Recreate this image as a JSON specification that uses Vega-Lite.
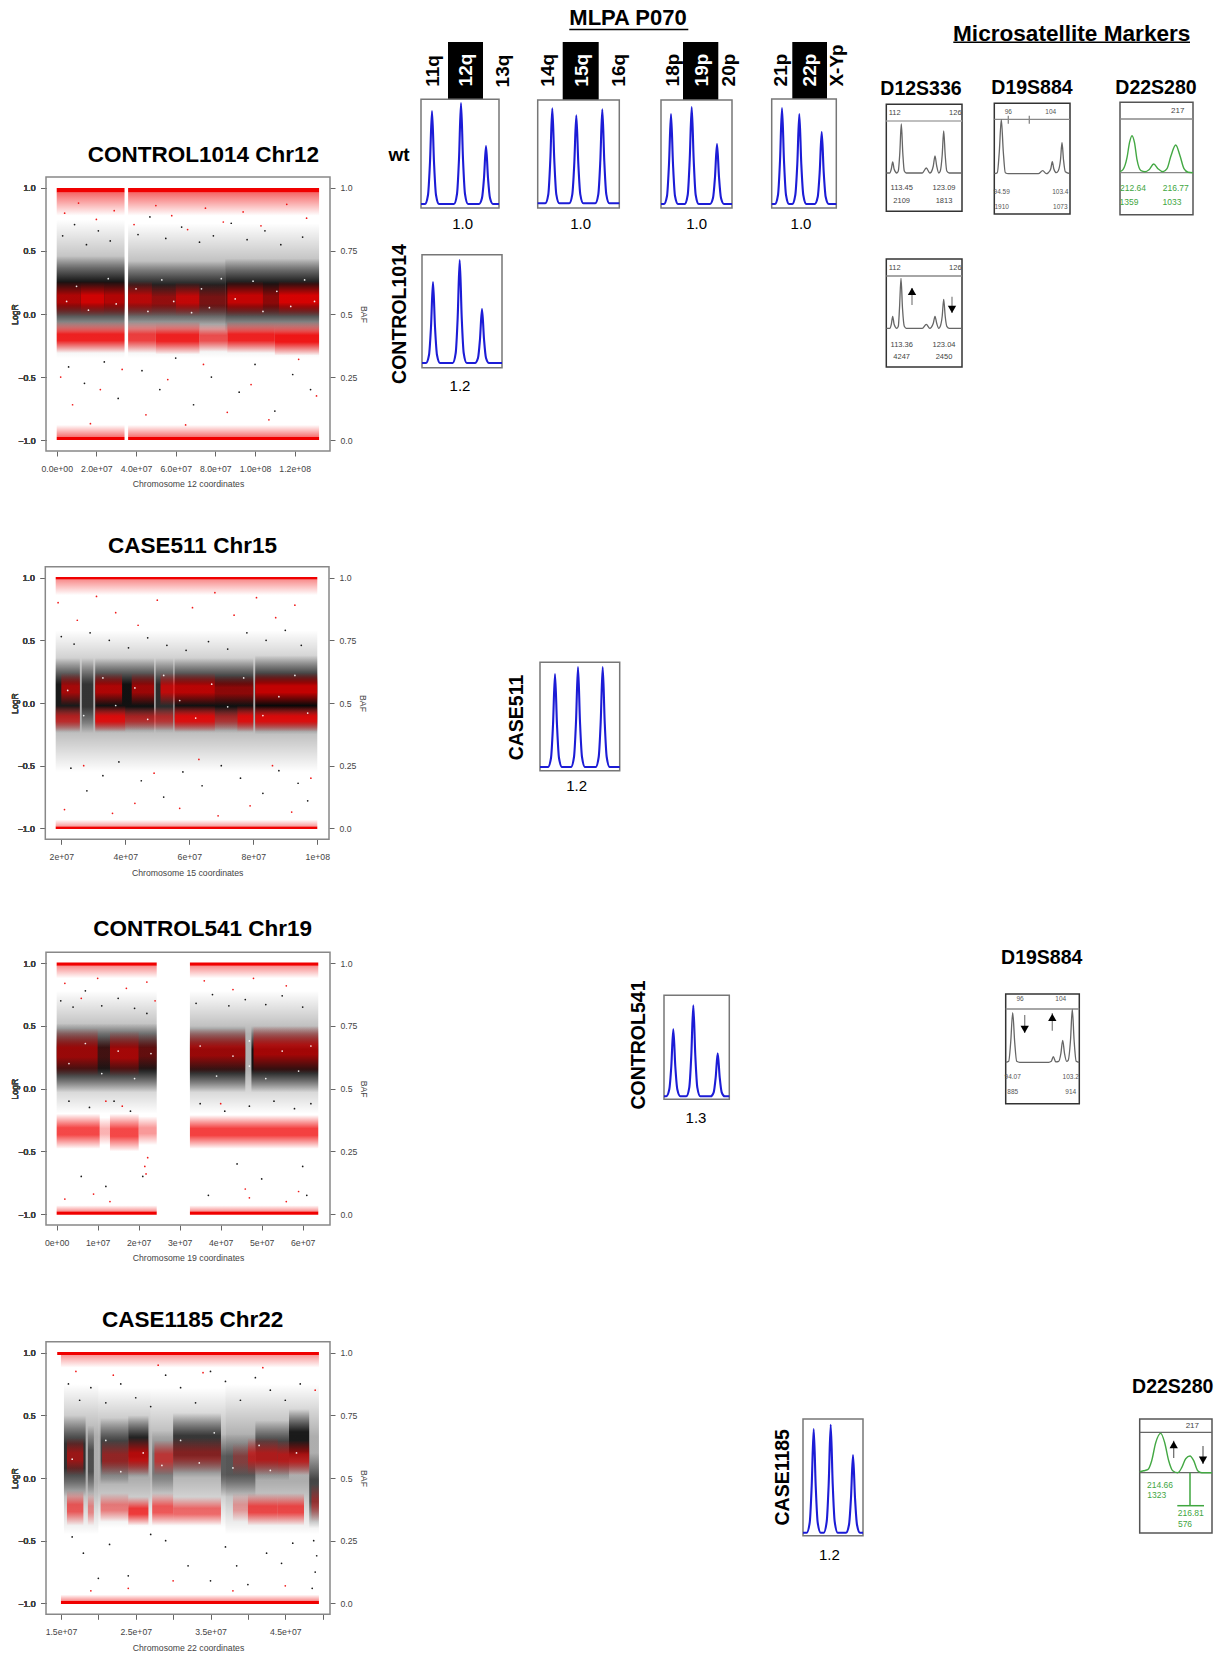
{"$schema":"https://vega.github.io/schema/vega-lite/v6.json","width":1224,"height":1654,"padding":0,"autosize":"none","background":"white",
"config":{"view":{"stroke":null},"text":{"font":"Liberation Sans"},"axis":{"domain":false,"grid":false,"tickColor":"#666","tickSize":5,"labelFont":"Liberation Sans","labelFontSize":8.7,"labelColor":"#444","titleFont":"Liberation Sans","titleFontSize":8.7,"titleColor":"#444","titleFontWeight":"normal","labelFlush":false,"labelOverlap":false}},
"resolve":{"scale":{"x":"independent","y":"independent"}},
"layer":[
{"resolve":{"axis":{"y":"independent"}},
"encoding":{"x":{"field":"x","type":"quantitative","scale":{"domain":[-5.4,137.8],"range":[46,330]},"axis":{"orient":"bottom","offset":-1203,"values":[0,20,40,60,80,100,120],"labelPadding":8,"titlePadding":7,"title":"Chromosome 12 coordinates","labelExpr":"replace(format(datum.value*1e6,'.1e'),/e\\+(\\d)$/,'e+0$1')"}},
"y":{"field":"y","type":"quantitative","scale":{"domain":[-1.087,1.087],"range":[451,177]},"axis":{"orient":"left","offset":-46,"values":[-1,-0.5,0,0.5,1],"format":".1f","labelPadding":6,"title":"LogR","titleX":-27}}},
"layer":[
{"data":{"values":[{"x":0,"x2":34.2,"y":-0.35,"y2":0.75,"d":0.3},{"x":36,"x2":132.3,"y":-0.35,"y2":0.72,"d":0.3},{"x":0,"x2":34.2,"y":-0.14,"y2":0.46,"d":0.9},{"x":36,"x2":85,"y":-0.12,"y2":0.42,"d":0.82},{"x":85,"x2":132.3,"y":-0.14,"y2":0.44,"d":0.9}]},"mark":{"type":"rect","stroke":null,"fill":{"gradient":"linear","x1":0,"y1":0,"x2":0,"y2":1,"stops":[{"offset":0,"color":"rgba(0,0,0,0)"},{"offset":0.35,"color":"rgba(0,0,0,1)"},{"offset":0.65,"color":"rgba(0,0,0,1)"},{"offset":1,"color":"rgba(0,0,0,0)"}]}},"encoding":{"x2":{"field":"x2"},"y2":{"field":"y2"},"opacity":{"field":"d","type":"quantitative","scale":null}}},
{"data":{"values":[{"x":0,"x2":12,"y":-0.02,"y2":0.26,"d":0.7},{"x":12,"x2":24,"y":-0.02,"y2":0.26,"d":0.85},{"x":24,"x2":34.2,"y":-0.02,"y2":0.26,"d":0.72},{"x":36,"x2":48,"y":-0.02,"y2":0.26,"d":0.72},{"x":48,"x2":60,"y":-0.02,"y2":0.24,"d":0.55},{"x":60,"x2":72,"y":-0.02,"y2":0.25,"d":0.78},{"x":72,"x2":86,"y":-0.02,"y2":0.24,"d":0.42},{"x":86,"x2":104,"y":-0.02,"y2":0.26,"d":0.8},{"x":104,"x2":112,"y":-0.02,"y2":0.25,"d":0.55},{"x":112,"x2":132.3,"y":-0.02,"y2":0.26,"d":0.88},{"x":0,"x2":34.2,"y":-0.31,"y2":-0.06,"d":0.85},{"x":36,"x2":50,"y":-0.31,"y2":-0.06,"d":0.72},{"x":50,"x2":72,"y":-0.32,"y2":-0.06,"d":0.85},{"x":72,"x2":86,"y":-0.3,"y2":-0.08,"d":0.65},{"x":86,"x2":110,"y":-0.31,"y2":-0.06,"d":0.85},{"x":110,"x2":132.3,"y":-0.33,"y2":-0.06,"d":0.9}]},"mark":{"type":"rect","stroke":null,"fill":{"gradient":"linear","x1":0,"y1":0,"x2":0,"y2":1,"stops":[{"offset":0,"color":"rgba(240,0,0,0)"},{"offset":0.4,"color":"rgba(240,0,0,1)"},{"offset":0.6,"color":"rgba(240,0,0,1)"},{"offset":1,"color":"rgba(240,0,0,0)"}]}},"encoding":{"x2":{"field":"x2"},"y2":{"field":"y2"},"opacity":{"field":"d","type":"quantitative","scale":null}}},
{"data":{"values":[{"x":0,"x2":34.2,"y":0.965,"y2":0.78,"d":0.6},{"x":36,"x2":132.3,"y":0.965,"y2":0.78,"d":0.6}]},"mark":{"type":"rect","stroke":null,"fill":{"gradient":"linear","x1":0,"y1":0,"x2":0,"y2":1,"stops":[{"offset":0,"color":"rgba(240,0,0,1)"},{"offset":1,"color":"rgba(240,0,0,0)"}]}},"encoding":{"x2":{"field":"x2"},"y2":{"field":"y2"},"opacity":{"field":"d","type":"quantitative","scale":null}}},
{"data":{"values":[{"x":0,"x2":34.2,"y":-0.975,"y2":-0.88,"d":0.55},{"x":36,"x2":132.3,"y":-0.975,"y2":-0.88,"d":0.55}]},"mark":{"type":"rect","stroke":null,"fill":{"gradient":"linear","x1":0,"y1":1,"x2":0,"y2":0,"stops":[{"offset":0,"color":"rgba(240,0,0,1)"},{"offset":1,"color":"rgba(240,0,0,0)"}]}},"encoding":{"x2":{"field":"x2"},"y2":{"field":"y2"},"opacity":{"field":"d","type":"quantitative","scale":null}}},
{"data":{"values":[{"x":0,"x2":34.2,"y":0.965,"y2":1},{"x":36,"x2":132.3,"y":0.965,"y2":1},{"x":0,"x2":34.2,"y":-1,"y2":-0.975},{"x":36,"x2":132.3,"y":-1,"y2":-0.975}]},"mark":{"type":"rect","stroke":null,"fill":"#f00000"},"encoding":{"x2":{"field":"x2"},"y2":{"field":"y2"}}},
{"data":{"values":[{"x":3,"y":0.62,"c":"k"},{"x":9,"y":0.71,"c":"k"},{"x":15,"y":0.55,"c":"k"},{"x":21,"y":0.66,"c":"k"},{"x":27,"y":0.58,"c":"k"},{"x":41,"y":0.63,"c":"k"},{"x":47,"y":0.77,"c":"k"},{"x":55,"y":0.6,"c":"k"},{"x":63,"y":0.69,"c":"k"},{"x":72,"y":0.57,"c":"k"},{"x":79,"y":0.62,"c":"k"},{"x":88,"y":0.72,"c":"k"},{"x":96,"y":0.59,"c":"k"},{"x":105,"y":0.66,"c":"k"},{"x":113,"y":0.55,"c":"k"},{"x":124,"y":0.61,"c":"k"},{"x":6,"y":-0.42,"c":"k"},{"x":14,"y":-0.55,"c":"k"},{"x":24,"y":-0.38,"c":"k"},{"x":31,"y":-0.67,"c":"k"},{"x":43,"y":-0.45,"c":"k"},{"x":52,"y":-0.6,"c":"k"},{"x":60,"y":-0.35,"c":"k"},{"x":69,"y":-0.72,"c":"k"},{"x":78,"y":-0.5,"c":"k"},{"x":92,"y":-0.62,"c":"k"},{"x":100,"y":-0.4,"c":"k"},{"x":110,"y":-0.77,"c":"k"},{"x":119,"y":-0.48,"c":"k"},{"x":128,"y":-0.6,"c":"k"},{"x":4,"y":0.8,"c":"r"},{"x":11,"y":0.88,"c":"r"},{"x":20,"y":0.75,"c":"r"},{"x":29,"y":0.82,"c":"r"},{"x":39,"y":0.71,"c":"r"},{"x":50,"y":0.86,"c":"r"},{"x":58,"y":0.78,"c":"r"},{"x":66,"y":0.67,"c":"r"},{"x":75,"y":0.84,"c":"r"},{"x":84,"y":0.73,"c":"r"},{"x":94,"y":0.81,"c":"r"},{"x":103,"y":0.7,"c":"r"},{"x":116,"y":0.87,"c":"r"},{"x":126,"y":0.76,"c":"r"},{"x":2,"y":-0.5,"c":"r"},{"x":8,"y":-0.72,"c":"r"},{"x":17,"y":-0.87,"c":"r"},{"x":22,"y":-0.6,"c":"r"},{"x":33,"y":-0.44,"c":"r"},{"x":45,"y":-0.8,"c":"r"},{"x":56,"y":-0.52,"c":"r"},{"x":65,"y":-0.88,"c":"r"},{"x":74,"y":-0.4,"c":"r"},{"x":86,"y":-0.78,"c":"r"},{"x":98,"y":-0.56,"c":"r"},{"x":107,"y":-0.84,"c":"r"},{"x":122,"y":-0.36,"c":"r"},{"x":131,"y":-0.65,"c":"r"},{"x":5,"y":0.1,"c":"w"},{"x":10,"y":0.22,"c":"w"},{"x":16,"y":0.03,"c":"w"},{"x":26,"y":0.28,"c":"w"},{"x":30,"y":0.08,"c":"w"},{"x":40,"y":0.2,"c":"w"},{"x":46,"y":0.02,"c":"w"},{"x":53,"y":0.27,"c":"w"},{"x":59,"y":0.1,"c":"w"},{"x":68,"y":0.01,"c":"w"},{"x":73,"y":0.2,"c":"w"},{"x":77,"y":0.05,"c":"w"},{"x":83,"y":0.28,"c":"w"},{"x":90,"y":0.12,"c":"w"},{"x":99,"y":0.26,"c":"w"},{"x":104,"y":0.02,"c":"w"},{"x":111,"y":0.18,"c":"w"},{"x":118,"y":0.06,"c":"w"},{"x":125,"y":0.27,"c":"w"},{"x":130,"y":0.1,"c":"w"}]},"mark":{"type":"circle","size":3,"opacity":0.9},"encoding":{"color":{"field":"c","type":"nominal","scale":{"domain":["k","r","w"],"range":["#000000","#f00000","#ffffff"]},"legend":null}}},
{"data":{"values":[{"x":-5.4,"x2":137.8,"y":-1.087,"y2":1.087}]},"mark":{"type":"rect","fill":null,"stroke":"#888","strokeWidth":1.5},"encoding":{"x2":{"field":"x2"},"y2":{"field":"y2"},"y":{"field":"y","type":"quantitative","scale":{"domain":[-1.087,1.087],"range":[451,177]},"axis":{"orient":"right","offset":-894,"values":[-1,-0.5,0,0.5,1],"labelPadding":5,"title":"BAF","titleX":28,"labelExpr":"{'-1':'0.0','-0.5':'0.25','0':'0.5','0.5':'0.75','1':'1.0'}[''+datum.value]"}}}},
{"data":{"values":[{"x":74,"y":1.26,"t":"CONTROL1014 Chr12"}]},"mark":{"type":"text","fontSize":22.5,"fontWeight":"bold"},"encoding":{"text":{"field":"t"}}}
]},
{"resolve":{"axis":{"y":"independent"}},
"encoding":{"x":{"field":"x","type":"quantitative","scale":{"domain":[15,103.66],"range":[45.3,329]},"axis":{"orient":"bottom","offset":-814.7,"values":[20,40,60,80,100],"labelPadding":8,"titlePadding":7,"title":"Chromosome 15 coordinates","labelExpr":"replace(format(datum.value*1e6,'.0e'),/e\\+(\\d)$/,'e+0$1')"}},
"y":{"field":"y","type":"quantitative","scale":{"domain":[-1.087,1.087],"range":[839.3,566.7]},"axis":{"orient":"left","offset":-45.3,"values":[-1,-0.5,0,0.5,1],"format":".1f","labelPadding":6,"title":"LogR","titleX":-26.3}}},
"layer":[
{"data":{"values":[{"x":18.25,"x2":100,"y":-0.55,"y2":0.58,"d":0.32},{"x":18.25,"x2":25.8,"y":-0.24,"y2":0.36,"d":0.85},{"x":26.4,"x2":30,"y":-0.24,"y2":0.36,"d":0.7},{"x":30.6,"x2":49,"y":-0.24,"y2":0.36,"d":0.9},{"x":49.5,"x2":55,"y":-0.24,"y2":0.36,"d":0.75},{"x":55.4,"x2":80,"y":-0.24,"y2":0.36,"d":0.9},{"x":80.6,"x2":100,"y":-0.25,"y2":0.38,"d":0.95}]},"mark":{"type":"rect","stroke":null,"fill":{"gradient":"linear","x1":0,"y1":0,"x2":0,"y2":1,"stops":[{"offset":0,"color":"rgba(0,0,0,0)"},{"offset":0.35,"color":"rgba(0,0,0,1)"},{"offset":0.65,"color":"rgba(0,0,0,1)"},{"offset":1,"color":"rgba(0,0,0,0)"}]}},"encoding":{"x2":{"field":"x2"},"y2":{"field":"y2"},"opacity":{"field":"d","type":"quantitative","scale":null}}},
{"data":{"values":[{"x":20,"x2":25.8,"y":-0.02,"y2":0.24,"d":0.65},{"x":30.6,"x2":39,"y":-0.02,"y2":0.24,"d":0.7},{"x":42,"x2":49,"y":-0.02,"y2":0.24,"d":0.62},{"x":51,"x2":68,"y":-0.02,"y2":0.24,"d":0.75},{"x":68,"x2":80,"y":-0.02,"y2":0.22,"d":0.55},{"x":80.6,"x2":100,"y":-0.02,"y2":0.24,"d":0.8},{"x":18.25,"x2":25.8,"y":-0.23,"y2":-0.02,"d":0.6},{"x":30.6,"x2":40,"y":-0.23,"y2":-0.02,"d":0.85},{"x":40,"x2":55,"y":-0.22,"y2":-0.03,"d":0.55},{"x":55.4,"x2":68,"y":-0.23,"y2":-0.02,"d":0.85},{"x":68,"x2":75,"y":-0.22,"y2":-0.03,"d":0.5},{"x":75,"x2":80,"y":-0.23,"y2":-0.02,"d":0.85},{"x":80.6,"x2":100,"y":-0.23,"y2":-0.02,"d":0.85}]},"mark":{"type":"rect","stroke":null,"fill":{"gradient":"linear","x1":0,"y1":0,"x2":0,"y2":1,"stops":[{"offset":0,"color":"rgba(240,0,0,0)"},{"offset":0.4,"color":"rgba(240,0,0,1)"},{"offset":0.6,"color":"rgba(240,0,0,1)"},{"offset":1,"color":"rgba(240,0,0,0)"}]}},"encoding":{"x2":{"field":"x2"},"y2":{"field":"y2"},"opacity":{"field":"d","type":"quantitative","scale":null}}},
{"data":{"values":[{"x":18.25,"x2":100,"y":0.985,"y2":0.86,"d":0.45}]},"mark":{"type":"rect","stroke":null,"fill":{"gradient":"linear","x1":0,"y1":0,"x2":0,"y2":1,"stops":[{"offset":0,"color":"rgba(240,0,0,1)"},{"offset":1,"color":"rgba(240,0,0,0)"}]}},"encoding":{"x2":{"field":"x2"},"y2":{"field":"y2"},"opacity":{"field":"d","type":"quantitative","scale":null}}},
{"data":{"values":[{"x":18.25,"x2":100,"y":-0.985,"y2":-0.93,"d":0.4}]},"mark":{"type":"rect","stroke":null,"fill":{"gradient":"linear","x1":0,"y1":1,"x2":0,"y2":0,"stops":[{"offset":0,"color":"rgba(240,0,0,1)"},{"offset":1,"color":"rgba(240,0,0,0)"}]}},"encoding":{"x2":{"field":"x2"},"y2":{"field":"y2"},"opacity":{"field":"d","type":"quantitative","scale":null}}},
{"data":{"values":[{"x":18.25,"x2":100,"y":0.985,"y2":1.005},{"x":18.25,"x2":100,"y":-1.005,"y2":-0.985}]},"mark":{"type":"rect","stroke":null,"fill":"#f00000"},"encoding":{"x2":{"field":"x2"},"y2":{"field":"y2"}}},
{"data":{"values":[{"x":20,"y":0.53,"c":"k"},{"x":24,"y":0.47,"c":"k"},{"x":29,"y":0.56,"c":"k"},{"x":35,"y":0.5,"c":"k"},{"x":41,"y":0.44,"c":"k"},{"x":47,"y":0.52,"c":"k"},{"x":53,"y":0.46,"c":"k"},{"x":59,"y":0.42,"c":"k"},{"x":66,"y":0.49,"c":"k"},{"x":72,"y":0.43,"c":"k"},{"x":78,"y":0.56,"c":"k"},{"x":84,"y":0.5,"c":"k"},{"x":90,"y":0.58,"c":"k"},{"x":95,"y":0.46,"c":"k"},{"x":23,"y":-0.52,"c":"k"},{"x":28,"y":-0.7,"c":"k"},{"x":33,"y":-0.58,"c":"k"},{"x":38,"y":-0.47,"c":"k"},{"x":45,"y":-0.62,"c":"k"},{"x":52,"y":-0.75,"c":"k"},{"x":58,"y":-0.55,"c":"k"},{"x":64,"y":-0.66,"c":"k"},{"x":70,"y":-0.5,"c":"k"},{"x":76,"y":-0.6,"c":"k"},{"x":83,"y":-0.72,"c":"k"},{"x":88,"y":-0.54,"c":"k"},{"x":94,"y":-0.64,"c":"k"},{"x":97,"y":-0.78,"c":"k"},{"x":19,"y":0.8,"c":"r"},{"x":25,"y":0.66,"c":"r"},{"x":31,"y":0.85,"c":"r"},{"x":37,"y":0.72,"c":"r"},{"x":44,"y":0.62,"c":"r"},{"x":50,"y":0.82,"c":"r"},{"x":61,"y":0.76,"c":"r"},{"x":68,"y":0.88,"c":"r"},{"x":74,"y":0.7,"c":"r"},{"x":81,"y":0.84,"c":"r"},{"x":87,"y":0.68,"c":"r"},{"x":93,"y":0.78,"c":"r"},{"x":21,"y":-0.85,"c":"r"},{"x":27,"y":-0.5,"c":"r"},{"x":36,"y":-0.88,"c":"r"},{"x":43,"y":-0.8,"c":"r"},{"x":49,"y":-0.56,"c":"r"},{"x":57,"y":-0.84,"c":"r"},{"x":63,"y":-0.45,"c":"r"},{"x":69,"y":-0.9,"c":"r"},{"x":79,"y":-0.82,"c":"r"},{"x":86,"y":-0.5,"c":"r"},{"x":92,"y":-0.87,"c":"r"},{"x":98,"y":-0.6,"c":"r"},{"x":22,"y":0.1,"c":"w"},{"x":27,"y":-0.1,"c":"w"},{"x":33,"y":0.2,"c":"w"},{"x":37,"y":-0.02,"c":"w"},{"x":43,"y":0.12,"c":"w"},{"x":47,"y":-0.13,"c":"w"},{"x":52,"y":0.22,"c":"w"},{"x":57,"y":0.02,"c":"w"},{"x":62,"y":-0.12,"c":"w"},{"x":67,"y":0.15,"c":"w"},{"x":72,"y":-0.03,"c":"w"},{"x":77,"y":0.2,"c":"w"},{"x":83,"y":-0.1,"c":"w"},{"x":88,"y":0.05,"c":"w"},{"x":93,"y":0.22,"c":"w"},{"x":97,"y":-0.08,"c":"w"}]},"mark":{"type":"circle","size":3,"opacity":0.9},"encoding":{"color":{"field":"c","type":"nominal","scale":{"domain":["k","r","w"],"range":["#000000","#f00000","#ffffff"]},"legend":null}}},
{"data":{"values":[{"x":15,"x2":103.66,"y":-1.087,"y2":1.087}]},"mark":{"type":"rect","fill":null,"stroke":"#888","strokeWidth":1.5},"encoding":{"x2":{"field":"x2"},"y2":{"field":"y2"},"y":{"field":"y","type":"quantitative","scale":{"domain":[-1.087,1.087],"range":[839.3,566.7]},"axis":{"orient":"right","offset":-895,"values":[-1,-0.5,0,0.5,1],"labelPadding":5,"title":"BAF","titleX":28,"labelExpr":"{'-1':'0.0','-0.5':'0.25','0':'0.5','0.5':'0.75','1':'1.0'}[''+datum.value]"}}}},
{"data":{"values":[{"x":61,"y":1.25,"t":"CASE511 Chr15"}]},"mark":{"type":"text","fontSize":22.5,"fontWeight":"bold"},"encoding":{"text":{"field":"t"}}}
]},
{"resolve":{"axis":{"y":"independent"}},
"encoding":{"x":{"field":"x","type":"quantitative","scale":{"domain":[-2.6,66.66],"range":[46,330]},"axis":{"orient":"bottom","offset":-429,"values":[0,10,20,30,40,50,60],"labelPadding":8,"titlePadding":7,"title":"Chromosome 19 coordinates","labelExpr":"replace(format(datum.value*1e6,'.0e'),/e\\+(\\d)$/,'e+0$1')"}},
"y":{"field":"y","type":"quantitative","scale":{"domain":[-1.087,1.087],"range":[1225,952.3]},"axis":{"orient":"left","offset":-46,"values":[-1,-0.5,0,0.5,1],"format":".1f","labelPadding":6,"title":"LogR","titleX":-27}}},
"layer":[
{"data":{"values":[{"x":0,"x2":24.4,"y":-0.2,"y2":0.78,"d":0.3},{"x":32.5,"x2":63.8,"y":-0.2,"y2":0.78,"d":0.3},{"x":0,"x2":24.4,"y":-0.03,"y2":0.52,"d":0.88},{"x":32.5,"x2":46,"y":-0.03,"y2":0.5,"d":0.88},{"x":47.5,"x2":63.8,"y":-0.03,"y2":0.5,"d":0.9}]},"mark":{"type":"rect","stroke":null,"fill":{"gradient":"linear","x1":0,"y1":0,"x2":0,"y2":1,"stops":[{"offset":0,"color":"rgba(0,0,0,0)"},{"offset":0.35,"color":"rgba(0,0,0,1)"},{"offset":0.65,"color":"rgba(0,0,0,1)"},{"offset":1,"color":"rgba(0,0,0,0)"}]}},"encoding":{"x2":{"field":"x2"},"y2":{"field":"y2"},"opacity":{"field":"d","type":"quantitative","scale":null}}},
{"data":{"values":[{"x":0,"x2":10,"y":0.1,"y2":0.48,"d":0.6},{"x":10,"x2":13,"y":0.14,"y2":0.42,"d":0.2},{"x":13,"x2":20,"y":0.1,"y2":0.46,"d":0.65},{"x":20,"x2":24.4,"y":0.14,"y2":0.44,"d":0.35},{"x":32.5,"x2":46,"y":0.12,"y2":0.48,"d":0.6},{"x":48,"x2":63.8,"y":0.12,"y2":0.5,"d":0.65},{"x":0,"x2":10.5,"y":-0.48,"y2":-0.2,"d":0.72},{"x":10.5,"x2":13,"y":-0.45,"y2":-0.23,"d":0.3},{"x":13,"x2":20,"y":-0.5,"y2":-0.2,"d":0.72},{"x":20,"x2":24.4,"y":-0.45,"y2":-0.22,"d":0.4},{"x":32.5,"x2":63.8,"y":-0.48,"y2":-0.21,"d":0.75}]},"mark":{"type":"rect","stroke":null,"fill":{"gradient":"linear","x1":0,"y1":0,"x2":0,"y2":1,"stops":[{"offset":0,"color":"rgba(240,0,0,0)"},{"offset":0.4,"color":"rgba(240,0,0,1)"},{"offset":0.6,"color":"rgba(240,0,0,1)"},{"offset":1,"color":"rgba(240,0,0,0)"}]}},"encoding":{"x2":{"field":"x2"},"y2":{"field":"y2"},"opacity":{"field":"d","type":"quantitative","scale":null}}},
{"data":{"values":[{"x":0,"x2":24.4,"y":0.98,"y2":0.88,"d":0.45},{"x":32.5,"x2":63.8,"y":0.98,"y2":0.88,"d":0.45}]},"mark":{"type":"rect","stroke":null,"fill":{"gradient":"linear","x1":0,"y1":0,"x2":0,"y2":1,"stops":[{"offset":0,"color":"rgba(240,0,0,1)"},{"offset":1,"color":"rgba(240,0,0,0)"}]}},"encoding":{"x2":{"field":"x2"},"y2":{"field":"y2"},"opacity":{"field":"d","type":"quantitative","scale":null}}},
{"data":{"values":[{"x":0,"x2":24.4,"y":-0.98,"y2":-0.93,"d":0.45},{"x":32.5,"x2":63.8,"y":-0.98,"y2":-0.93,"d":0.45}]},"mark":{"type":"rect","stroke":null,"fill":{"gradient":"linear","x1":0,"y1":1,"x2":0,"y2":0,"stops":[{"offset":0,"color":"rgba(240,0,0,1)"},{"offset":1,"color":"rgba(240,0,0,0)"}]}},"encoding":{"x2":{"field":"x2"},"y2":{"field":"y2"},"opacity":{"field":"d","type":"quantitative","scale":null}}},
{"data":{"values":[{"x":0,"x2":24.4,"y":0.98,"y2":1.005},{"x":32.5,"x2":63.8,"y":0.98,"y2":1.005},{"x":0,"x2":24.4,"y":-1.005,"y2":-0.98},{"x":32.5,"x2":63.8,"y":-1.005,"y2":-0.98}]},"mark":{"type":"rect","stroke":null,"fill":"#f00000"},"encoding":{"x2":{"field":"x2"},"y2":{"field":"y2"}}},
{"data":{"values":[{"x":1,"y":0.7,"c":"k"},{"x":4,"y":0.65,"c":"k"},{"x":7,"y":0.78,"c":"k"},{"x":11,"y":0.66,"c":"k"},{"x":15,"y":0.72,"c":"k"},{"x":19,"y":0.64,"c":"k"},{"x":22,"y":0.6,"c":"k"},{"x":34,"y":0.68,"c":"k"},{"x":38,"y":0.75,"c":"k"},{"x":42,"y":0.66,"c":"k"},{"x":46,"y":0.71,"c":"k"},{"x":51,"y":0.67,"c":"k"},{"x":55,"y":0.74,"c":"k"},{"x":60,"y":0.65,"c":"k"},{"x":3,"y":-0.1,"c":"k"},{"x":8,"y":-0.15,"c":"k"},{"x":14,"y":-0.1,"c":"k"},{"x":18,"y":-0.18,"c":"k"},{"x":35,"y":-0.12,"c":"k"},{"x":41,"y":-0.18,"c":"k"},{"x":47,"y":-0.14,"c":"k"},{"x":53,"y":-0.1,"c":"k"},{"x":58,"y":-0.16,"c":"k"},{"x":62,"y":-0.12,"c":"k"},{"x":6,"y":-0.7,"c":"k"},{"x":12,"y":-0.78,"c":"k"},{"x":21,"y":-0.7,"c":"k"},{"x":37,"y":-0.85,"c":"k"},{"x":44,"y":-0.6,"c":"k"},{"x":50,"y":-0.72,"c":"k"},{"x":60,"y":-0.62,"c":"k"},{"x":61,"y":-0.85,"c":"k"},{"x":2,"y":0.84,"c":"r"},{"x":6,"y":0.72,"c":"r"},{"x":10,"y":0.88,"c":"r"},{"x":17,"y":0.8,"c":"r"},{"x":22,"y":0.85,"c":"r"},{"x":24,"y":0.7,"c":"r"},{"x":36,"y":0.86,"c":"r"},{"x":43,"y":0.79,"c":"r"},{"x":48,"y":0.88,"c":"r"},{"x":56,"y":0.82,"c":"r"},{"x":2,"y":-0.88,"c":"r"},{"x":9,"y":-0.84,"c":"r"},{"x":21.5,"y":-0.62,"c":"r"},{"x":21.8,"y":-0.68,"c":"r"},{"x":22.2,"y":-0.55,"c":"r"},{"x":13,"y":-0.9,"c":"r"},{"x":46,"y":-0.8,"c":"r"},{"x":47,"y":-0.87,"c":"r"},{"x":56,"y":-0.9,"c":"r"},{"x":59,"y":-0.82,"c":"r"},{"x":12,"y":-0.1,"c":"r"},{"x":16,"y":-0.14,"c":"r"},{"x":40,"y":-0.12,"c":"r"},{"x":3,"y":0.2,"c":"w"},{"x":7,"y":0.36,"c":"w"},{"x":11,"y":0.12,"c":"w"},{"x":15,"y":0.3,"c":"w"},{"x":19,"y":0.08,"c":"w"},{"x":23,"y":0.28,"c":"w"},{"x":35,"y":0.34,"c":"w"},{"x":39,"y":0.1,"c":"w"},{"x":43,"y":0.26,"c":"w"},{"x":47,"y":0.38,"c":"w"},{"x":47,"y":0.18,"c":"w"},{"x":51,"y":0.08,"c":"w"},{"x":55,"y":0.3,"c":"w"},{"x":59,"y":0.14,"c":"w"},{"x":62,"y":0.34,"c":"w"}]},"mark":{"type":"circle","size":3,"opacity":0.9},"encoding":{"color":{"field":"c","type":"nominal","scale":{"domain":["k","r","w"],"range":["#000000","#f00000","#ffffff"]},"legend":null}}},
{"data":{"values":[{"x":-2.6,"x2":66.66,"y":-1.087,"y2":1.087}]},"mark":{"type":"rect","fill":null,"stroke":"#888","strokeWidth":1.5},"encoding":{"x2":{"field":"x2"},"y2":{"field":"y2"},"y":{"field":"y","type":"quantitative","scale":{"domain":[-1.087,1.087],"range":[1225,952.3]},"axis":{"orient":"right","offset":-894,"values":[-1,-0.5,0,0.5,1],"labelPadding":5,"title":"BAF","titleX":28,"labelExpr":"{'-1':'0.0','-0.5':'0.25','0':'0.5','0.5':'0.75','1':'1.0'}[''+datum.value]"}}}},
{"data":{"values":[{"x":35.6,"y":1.275,"t":"CONTROL541 Chr19"}]},"mark":{"type":"text","fontSize":22.5,"fontWeight":"bold"},"encoding":{"text":{"field":"t"}}}
]},
{"resolve":{"axis":{"y":"independent"}},
"encoding":{"x":{"field":"x","type":"quantitative","scale":{"domain":[13,50.98],"range":[46,330]},"axis":{"orient":"bottom","offset":-39.7,"values":[15,20,25,30,35,40,45,50],"labelPadding":8,"titlePadding":7,"title":"Chromosome 22 coordinates","labelExpr":"datum.value%10==5?replace(format(datum.value*1e6,'.1e'),/e\\+(\\d)$/,'e+0$1'):''"}},
"y":{"field":"y","type":"quantitative","scale":{"domain":[-1.087,1.087],"range":[1614.3,1341.7]},"axis":{"orient":"left","offset":-46,"values":[-1,-0.5,0,0.5,1],"format":".1f","labelPadding":6,"title":"LogR","titleX":-27}}},
"layer":[
{"data":{"values":[{"x":15.4,"x2":20,"y":-0.45,"y2":0.75,"d":0.32},{"x":20,"x2":27,"y":-0.4,"y2":0.72,"d":0.32},{"x":27,"x2":37,"y":-0.4,"y2":0.72,"d":0.28},{"x":37,"x2":49.5,"y":-0.45,"y2":0.75,"d":0.32},{"x":15.4,"x2":18.3,"y":-0.15,"y2":0.5,"d":0.72},{"x":18.6,"x2":19.4,"y":-0.15,"y2":0.42,"d":0.55},{"x":20.3,"x2":24,"y":-0.05,"y2":0.48,"d":0.62},{"x":24,"x2":26.7,"y":0,"y2":0.5,"d":0.8},{"x":27.2,"x2":30,"y":-0.15,"y2":0.38,"d":0.35},{"x":30,"x2":36.4,"y":0,"y2":0.52,"d":0.7},{"x":36.4,"x2":41,"y":-0.15,"y2":0.35,"d":0.5},{"x":41,"x2":45.5,"y":-0.02,"y2":0.46,"d":0.6},{"x":45.5,"x2":48.2,"y":0.03,"y2":0.55,"d":0.85},{"x":48.2,"x2":49.5,"y":-0.4,"y2":0.2,"d":0.6}]},"mark":{"type":"rect","stroke":null,"fill":{"gradient":"linear","x1":0,"y1":0,"x2":0,"y2":1,"stops":[{"offset":0,"color":"rgba(0,0,0,0)"},{"offset":0.35,"color":"rgba(0,0,0,1)"},{"offset":0.65,"color":"rgba(0,0,0,1)"},{"offset":1,"color":"rgba(0,0,0,0)"}]}},"encoding":{"x2":{"field":"x2"},"y2":{"field":"y2"},"opacity":{"field":"d","type":"quantitative","scale":null}}},
{"data":{"values":[{"x":15.8,"x2":18,"y":0.02,"y2":0.32,"d":0.55},{"x":20.5,"x2":24,"y":0.02,"y2":0.3,"d":0.45},{"x":24,"x2":26.7,"y":0.02,"y2":0.32,"d":0.7},{"x":27.5,"x2":30,"y":0.02,"y2":0.3,"d":0.55},{"x":30,"x2":36.4,"y":0.04,"y2":0.32,"d":0.4},{"x":38,"x2":40,"y":0.02,"y2":0.28,"d":0.28},{"x":40,"x2":44,"y":0.02,"y2":0.32,"d":0.6},{"x":44,"x2":48.2,"y":0.02,"y2":0.3,"d":0.62},{"x":15.8,"x2":18,"y":-0.38,"y2":-0.1,"d":0.6},{"x":18.6,"x2":19.4,"y":-0.38,"y2":-0.12,"d":0.4},{"x":20.3,"x2":24,"y":-0.35,"y2":-0.12,"d":0.45},{"x":24,"x2":26.7,"y":-0.38,"y2":-0.15,"d":0.75},{"x":27.2,"x2":30,"y":-0.38,"y2":-0.12,"d":0.62},{"x":30,"x2":36.4,"y":-0.38,"y2":-0.15,"d":0.55},{"x":38,"x2":40,"y":-0.35,"y2":-0.12,"d":0.3},{"x":40,"x2":44,"y":-0.38,"y2":-0.12,"d":0.68},{"x":44,"x2":47.5,"y":-0.38,"y2":-0.12,"d":0.68},{"x":48.5,"x2":49.5,"y":-0.35,"y2":-0.05,"d":0.4}]},"mark":{"type":"rect","stroke":null,"fill":{"gradient":"linear","x1":0,"y1":0,"x2":0,"y2":1,"stops":[{"offset":0,"color":"rgba(240,0,0,0)"},{"offset":0.4,"color":"rgba(240,0,0,1)"},{"offset":0.6,"color":"rgba(240,0,0,1)"},{"offset":1,"color":"rgba(240,0,0,0)"}]}},"encoding":{"x2":{"field":"x2"},"y2":{"field":"y2"},"opacity":{"field":"d","type":"quantitative","scale":null}}},
{"data":{"values":[{"x":15,"x2":49.5,"y":0.98,"y2":0.88,"d":0.4}]},"mark":{"type":"rect","stroke":null,"fill":{"gradient":"linear","x1":0,"y1":0,"x2":0,"y2":1,"stops":[{"offset":0,"color":"rgba(240,0,0,1)"},{"offset":1,"color":"rgba(240,0,0,0)"}]}},"encoding":{"x2":{"field":"x2"},"y2":{"field":"y2"},"opacity":{"field":"d","type":"quantitative","scale":null}}},
{"data":{"values":[{"x":15,"x2":49.5,"y":-0.98,"y2":-0.93,"d":0.45}]},"mark":{"type":"rect","stroke":null,"fill":{"gradient":"linear","x1":0,"y1":1,"x2":0,"y2":0,"stops":[{"offset":0,"color":"rgba(240,0,0,1)"},{"offset":1,"color":"rgba(240,0,0,0)"}]}},"encoding":{"x2":{"field":"x2"},"y2":{"field":"y2"},"opacity":{"field":"d","type":"quantitative","scale":null}}},
{"data":{"values":[{"x":14.5,"x2":49.5,"y":0.98,"y2":1.005},{"x":15,"x2":49.5,"y":-1.005,"y2":-0.98}]},"mark":{"type":"rect","stroke":null,"fill":"#f00000"},"encoding":{"x2":{"field":"x2"},"y2":{"field":"y2"}}},
{"data":{"values":[{"x":16,"y":0.75,"c":"k"},{"x":17.5,"y":0.62,"c":"k"},{"x":19,"y":0.72,"c":"k"},{"x":21,"y":0.6,"c":"k"},{"x":23,"y":0.75,"c":"k"},{"x":25,"y":0.64,"c":"k"},{"x":27,"y":0.57,"c":"k"},{"x":29,"y":0.82,"c":"k"},{"x":31,"y":0.72,"c":"k"},{"x":33,"y":0.6,"c":"k"},{"x":35,"y":0.85,"c":"k"},{"x":37,"y":0.77,"c":"k"},{"x":39,"y":0.62,"c":"k"},{"x":41,"y":0.8,"c":"k"},{"x":43,"y":0.7,"c":"k"},{"x":45,"y":0.62,"c":"k"},{"x":47,"y":0.75,"c":"k"},{"x":16.5,"y":-0.47,"c":"k"},{"x":18,"y":-0.6,"c":"k"},{"x":20,"y":-0.8,"c":"k"},{"x":21.5,"y":-0.53,"c":"k"},{"x":24,"y":-0.78,"c":"k"},{"x":27,"y":-0.45,"c":"k"},{"x":29,"y":-0.5,"c":"k"},{"x":32,"y":-0.7,"c":"k"},{"x":35,"y":-0.82,"c":"k"},{"x":37,"y":-0.55,"c":"k"},{"x":38.5,"y":-0.7,"c":"k"},{"x":40,"y":-0.85,"c":"k"},{"x":42.5,"y":-0.6,"c":"k"},{"x":44.5,"y":-0.68,"c":"k"},{"x":46,"y":-0.52,"c":"k"},{"x":48.8,"y":-0.5,"c":"k"},{"x":49,"y":-0.75,"c":"k"},{"x":48.6,"y":-0.88,"c":"k"},{"x":49.2,"y":-0.62,"c":"k"},{"x":17,"y":0.85,"c":"r"},{"x":22,"y":0.82,"c":"r"},{"x":28,"y":0.9,"c":"r"},{"x":34,"y":0.84,"c":"r"},{"x":42,"y":0.88,"c":"r"},{"x":49,"y":0.7,"c":"r"},{"x":19,"y":-0.9,"c":"r"},{"x":24,"y":-0.88,"c":"r"},{"x":30,"y":-0.82,"c":"r"},{"x":38,"y":-0.9,"c":"r"},{"x":45,"y":-0.86,"c":"r"},{"x":16.5,"y":0.15,"c":"w"},{"x":21,"y":0.3,"c":"w"},{"x":23,"y":0.05,"c":"w"},{"x":26,"y":0.2,"c":"w"},{"x":28.5,"y":0.1,"c":"w"},{"x":31,"y":0.3,"c":"w"},{"x":33.5,"y":0.12,"c":"w"},{"x":35.5,"y":0.36,"c":"w"},{"x":38,"y":0.08,"c":"w"},{"x":41.5,"y":0.26,"c":"w"},{"x":43,"y":0.06,"c":"w"},{"x":46.5,"y":0.2,"c":"w"}]},"mark":{"type":"circle","size":3,"opacity":0.9},"encoding":{"color":{"field":"c","type":"nominal","scale":{"domain":["k","r","w"],"range":["#000000","#f00000","#ffffff"]},"legend":null}}},
{"data":{"values":[{"x":13,"x2":50.98,"y":-1.087,"y2":1.087}]},"mark":{"type":"rect","fill":null,"stroke":"#888","strokeWidth":1.5},"encoding":{"x2":{"field":"x2"},"y2":{"field":"y2"},"y":{"field":"y","type":"quantitative","scale":{"domain":[-1.087,1.087],"range":[1614.3,1341.7]},"axis":{"orient":"right","offset":-894,"values":[-1,-0.5,0,0.5,1],"labelPadding":5,"title":"BAF","titleX":28,"labelExpr":"{'-1':'0.0','-0.5':'0.25','0':'0.5','0.5':'0.75','1':'1.0'}[''+datum.value]"}}}},
{"data":{"values":[{"x":32.6,"y":1.26,"t":"CASE1185 Chr22"}]},"mark":{"type":"text","fontSize":22.5,"fontWeight":"bold"},"encoding":{"text":{"field":"t"}}}
]},

{"encoding":{"x":{"field":"x","type":"quantitative","axis":null,"scale":{"domain":[0,78],"range":[421,499]}},"y":{"field":"y","type":"quantitative","axis":null,"scale":{"domain":[-4,104.7],"range":[208,99.3]}}},
"layer":[
{"data":{"values":[{"x":27,"x2":62,"y":105,"y2":162}]},"mark":{"type":"rect","color":"black"},"encoding":{"x2":{"field":"x2"},"y2":{"field":"y2"}}},
{"data":{"values":[{"x":0,"x2":78,"y":-4,"y2":104.7}]},"mark":{"type":"rect","fill":null,"stroke":"#777","strokeWidth":1.5},"encoding":{"x2":{"field":"x2"},"y2":{"field":"y2"}}},
{"data":{"values":[{"x":0,"y":0},{"x":4,"y":0},{"x":7,"y":9},{"x":9,"y":42},{"x":11,"y":93},{"x":13,"y":42},{"x":15,"y":9},{"x":18,"y":0},{"x":33,"y":0},{"x":36,"y":10},{"x":38,"y":45},{"x":40,"y":101},{"x":42,"y":45},{"x":44,"y":10},{"x":47,"y":0},{"x":58,"y":0},{"x":61,"y":6},{"x":63,"y":26},{"x":65,"y":58},{"x":67,"y":26},{"x":69,"y":6},{"x":72,"y":0},{"x":78,"y":0}]},"mark":{"type":"line","color":"#1c1cd6","strokeWidth":2.1,"interpolate":"monotone"}},
{"data":{"values":[{"x":12,"y":133,"t":"11q"},{"x":81.7,"y":133,"t":"13q"}]},"mark":{"type":"text","fontSize":19,"fontWeight":"bold","angle":270},"encoding":{"text":{"field":"t"}}},
{"data":{"values":[{"x":45,"y":134,"t":"12q"}]},"mark":{"type":"text","fontSize":19,"fontWeight":"bold","angle":270,"color":"white"},"encoding":{"text":{"field":"t"}}},
{"data":{"values":[{"x":-22,"y":49,"t":"wt"}]},"mark":{"type":"text","fontSize":19,"fontWeight":"bold"},"encoding":{"text":{"field":"t"}}},
{"data":{"values":[{"x":41.7,"y":-20.3,"t":"1.0"}]},"mark":{"type":"text","fontSize":15},"encoding":{"text":{"field":"t"}}}
]},
{"encoding":{"x":{"field":"x","type":"quantitative","axis":null,"scale":{"domain":[0,81.6],"range":[537.7,619.3]}},"y":{"field":"y","type":"quantitative","axis":null,"scale":{"domain":[-4.7,103.3],"range":[208,100]}}},
"layer":[
{"data":{"values":[{"x":25,"x2":61,"y":103.3,"y2":161.3}]},"mark":{"type":"rect","color":"black"},"encoding":{"x2":{"field":"x2"},"y2":{"field":"y2"}}},
{"data":{"values":[{"x":0,"x2":81.6,"y":-4.7,"y2":103.3}]},"mark":{"type":"rect","fill":null,"stroke":"#777","strokeWidth":1.5},"encoding":{"x2":{"field":"x2"},"y2":{"field":"y2"}}},
{"data":{"values":[{"x":0,"y":0},{"x":7.6,"y":0},{"x":10.6,"y":9},{"x":12.6,"y":43},{"x":14.6,"y":95},{"x":16.6,"y":43},{"x":18.6,"y":9},{"x":21.6,"y":0},{"x":31.6,"y":0},{"x":34.6,"y":9},{"x":36.6,"y":40},{"x":38.6,"y":88},{"x":40.6,"y":40},{"x":42.6,"y":9},{"x":45.6,"y":0},{"x":57.6,"y":0},{"x":60.6,"y":9},{"x":62.6,"y":42},{"x":64.6,"y":94},{"x":66.6,"y":42},{"x":68.6,"y":9},{"x":71.6,"y":0},{"x":81.6,"y":0}]},"mark":{"type":"line","color":"#1c1cd6","strokeWidth":2.1,"interpolate":"monotone"}},
{"data":{"values":[{"x":10.3,"y":133,"t":"14q"},{"x":81.6,"y":133,"t":"16q"}]},"mark":{"type":"text","fontSize":19,"fontWeight":"bold","angle":270},"encoding":{"text":{"field":"t"}}},
{"data":{"values":[{"x":44,"y":133,"t":"15q"}]},"mark":{"type":"text","fontSize":19,"fontWeight":"bold","angle":270,"color":"white"},"encoding":{"text":{"field":"t"}}},
{"data":{"values":[{"x":90.3,"y":185,"t":"MLPA P070"}]},"mark":{"type":"text","fontSize":22,"fontWeight":"bold"},"encoding":{"text":{"field":"t"}}},
{"data":{"values":[{"x":31.6,"x2":150.6,"y":173.8,"y2":173.8}]},"mark":{"type":"rule","color":"black","strokeWidth":1.5},"encoding":{"x2":{"field":"x2"},"y2":{"field":"y2"}}},
{"data":{"values":[{"x":43,"y":-21,"t":"1.0"}]},"mark":{"type":"text","fontSize":15},"encoding":{"text":{"field":"t"}}}
]},
{"encoding":{"x":{"field":"x","type":"quantitative","axis":null,"scale":{"domain":[0,71],"range":[661,732]}},"y":{"field":"y","type":"quantitative","axis":null,"scale":{"domain":[-4,104],"range":[208,100]}}},
"layer":[
{"data":{"values":[{"x":22,"x2":57.3,"y":104,"y2":162}]},"mark":{"type":"rect","color":"black"},"encoding":{"x2":{"field":"x2"},"y2":{"field":"y2"}}},
{"data":{"values":[{"x":0,"x2":71,"y":-4,"y2":104}]},"mark":{"type":"rect","fill":null,"stroke":"#777","strokeWidth":1.5},"encoding":{"x2":{"field":"x2"},"y2":{"field":"y2"}}},
{"data":{"values":[{"x":0,"y":0},{"x":3,"y":0},{"x":6,"y":8},{"x":8,"y":40},{"x":10,"y":90},{"x":12,"y":40},{"x":14,"y":8},{"x":17,"y":0},{"x":23.7,"y":0},{"x":26.7,"y":9},{"x":28.7,"y":44},{"x":30.7,"y":97},{"x":32.7,"y":44},{"x":34.7,"y":9},{"x":37.7,"y":0},{"x":49,"y":0},{"x":52,"y":6},{"x":54,"y":27},{"x":56,"y":60},{"x":58,"y":27},{"x":60,"y":6},{"x":63,"y":0},{"x":71,"y":0}]},"mark":{"type":"line","color":"#1c1cd6","strokeWidth":2.1,"interpolate":"monotone"}},
{"data":{"values":[{"x":12,"y":134,"t":"18p"},{"x":68,"y":134,"t":"20p"}]},"mark":{"type":"text","fontSize":19,"fontWeight":"bold","angle":270},"encoding":{"text":{"field":"t"}}},
{"data":{"values":[{"x":40.7,"y":134,"t":"19p"}]},"mark":{"type":"text","fontSize":19,"fontWeight":"bold","angle":270,"color":"white"},"encoding":{"text":{"field":"t"}}},
{"data":{"values":[{"x":35.7,"y":-20.3,"t":"1.0"}]},"mark":{"type":"text","fontSize":15},"encoding":{"text":{"field":"t"}}}
]},
{"encoding":{"x":{"field":"x","type":"quantitative","axis":null,"scale":{"domain":[0,64.6],"range":[771.7,836.3]}},"y":{"field":"y","type":"quantitative","axis":null,"scale":{"domain":[-4,105],"range":[208,99]}}},
"layer":[
{"data":{"values":[{"x":20.6,"x2":55.3,"y":105,"y2":162}]},"mark":{"type":"rect","color":"black"},"encoding":{"x2":{"field":"x2"},"y2":{"field":"y2"}}},
{"data":{"values":[{"x":0,"x2":64.6,"y":-4,"y2":105}]},"mark":{"type":"rect","fill":null,"stroke":"#777","strokeWidth":1.5},"encoding":{"x2":{"field":"x2"},"y2":{"field":"y2"}}},
{"data":{"values":[{"x":0,"y":0},{"x":3.3,"y":0},{"x":6.3,"y":9},{"x":8.3,"y":43},{"x":10.3,"y":96},{"x":12.3,"y":43},{"x":14.3,"y":9},{"x":17.3,"y":0},{"x":20.6,"y":0},{"x":23.6,"y":9},{"x":25.6,"y":40},{"x":27.6,"y":90},{"x":29.6,"y":40},{"x":31.6,"y":9},{"x":34.6,"y":0},{"x":43,"y":0},{"x":46,"y":7},{"x":48,"y":32},{"x":50,"y":72},{"x":52,"y":32},{"x":54,"y":7},{"x":57,"y":0},{"x":64.6,"y":0}]},"mark":{"type":"line","color":"#1c1cd6","strokeWidth":2.1,"interpolate":"monotone"}},
{"data":{"values":[{"x":9.3,"y":134,"t":"21p"},{"x":65.6,"y":138.5,"t":"X-Yp"}]},"mark":{"type":"text","fontSize":19,"fontWeight":"bold","angle":270},"encoding":{"text":{"field":"t"}}},
{"data":{"values":[{"x":38.3,"y":134,"t":"22p"}]},"mark":{"type":"text","fontSize":19,"fontWeight":"bold","angle":270,"color":"white"},"encoding":{"text":{"field":"t"}}},
{"data":{"values":[{"x":29.3,"y":-20.3,"t":"1.0"}]},"mark":{"type":"text","fontSize":15},"encoding":{"text":{"field":"t"}}}
]},
{"encoding":{"x":{"field":"x","type":"quantitative","axis":null,"scale":{"domain":[0,80],"range":[422,502]}},"y":{"field":"y","type":"quantitative","axis":null,"scale":{"domain":[-4.7,108.3],"range":[367.7,254.7]}}},
"layer":[
{"data":{"values":[{"x":0,"x2":80,"y":-4.7,"y2":108.3}]},"mark":{"type":"rect","fill":null,"stroke":"#777","strokeWidth":1.5},"encoding":{"x2":{"field":"x2"},"y2":{"field":"y2"}}},
{"data":{"values":[{"x":0,"y":0},{"x":4,"y":0},{"x":7,"y":8},{"x":9,"y":36},{"x":11,"y":81},{"x":13,"y":36},{"x":15,"y":8},{"x":18,"y":0},{"x":30.7,"y":0},{"x":33.7,"y":10},{"x":35.7,"y":46},{"x":37.7,"y":103},{"x":39.7,"y":46},{"x":41.7,"y":10},{"x":44.7,"y":0},{"x":53,"y":0},{"x":56,"y":5},{"x":58,"y":24},{"x":60,"y":54},{"x":62,"y":24},{"x":64,"y":5},{"x":67,"y":0},{"x":80,"y":0}]},"mark":{"type":"line","color":"#1c1cd6","strokeWidth":2.1,"interpolate":"monotone"}},
{"data":{"values":[{"x":-22,"y":49,"t":"CONTROL1014"}]},"mark":{"type":"text","fontSize":19.5,"fontWeight":"bold","angle":270},"encoding":{"text":{"field":"t"}}},
{"data":{"values":[{"x":38,"y":-22.7,"t":"1.2"}]},"mark":{"type":"text","fontSize":15},"encoding":{"text":{"field":"t"}}}
]},
{"encoding":{"x":{"field":"x","type":"quantitative","axis":null,"scale":{"domain":[0,79.7],"range":[540,619.7]}},"y":{"field":"y","type":"quantitative","axis":null,"scale":{"domain":[-3.7,104.7],"range":[770.7,662.3]}}},
"layer":[
{"data":{"values":[{"x":0,"x2":79.7,"y":-3.7,"y2":104.7}]},"mark":{"type":"rect","fill":null,"stroke":"#777","strokeWidth":1.5},"encoding":{"x2":{"field":"x2"},"y2":{"field":"y2"}}},
{"data":{"values":[{"x":0,"y":0},{"x":8,"y":0},{"x":11,"y":9},{"x":13,"y":42},{"x":15,"y":93},{"x":17,"y":42},{"x":19,"y":9},{"x":22,"y":0},{"x":31,"y":0},{"x":34,"y":10},{"x":36,"y":45},{"x":38,"y":100},{"x":40,"y":45},{"x":42,"y":10},{"x":45,"y":0},{"x":55.7,"y":0},{"x":58.7,"y":10},{"x":60.7,"y":45},{"x":62.7,"y":100},{"x":64.7,"y":45},{"x":66.7,"y":10},{"x":69.7,"y":0},{"x":79.7,"y":0}]},"mark":{"type":"line","color":"#1c1cd6","strokeWidth":2.1,"interpolate":"monotone"}},
{"data":{"values":[{"x":-22.7,"y":49.5,"t":"CASE511"}]},"mark":{"type":"text","fontSize":19.5,"fontWeight":"bold","angle":270},"encoding":{"text":{"field":"t"}}},
{"data":{"values":[{"x":36.7,"y":-18.7,"t":"1.2"}]},"mark":{"type":"text","fontSize":15},"encoding":{"text":{"field":"t"}}}
]},
{"encoding":{"x":{"field":"x","type":"quantitative","axis":null,"scale":{"domain":[0,65.3],"range":[664,729.3]}},"y":{"field":"y","type":"quantitative","axis":null,"scale":{"domain":[-3,101],"range":[1099.3,995.3]}}},
"layer":[
{"data":{"values":[{"x":0,"x2":65.3,"y":-3,"y2":101}]},"mark":{"type":"rect","fill":null,"stroke":"#777","strokeWidth":1.5},"encoding":{"x2":{"field":"x2"},"y2":{"field":"y2"}}},
{"data":{"values":[{"x":0,"y":0},{"x":2.3,"y":0},{"x":5.3,"y":7},{"x":7.3,"y":30},{"x":9.3,"y":67},{"x":11.3,"y":30},{"x":13.3,"y":7},{"x":16.3,"y":0},{"x":22.3,"y":0},{"x":25.3,"y":9},{"x":27.3,"y":41},{"x":29.3,"y":91},{"x":31.3,"y":41},{"x":33.3,"y":9},{"x":36.3,"y":0},{"x":46.7,"y":0},{"x":49.7,"y":4},{"x":51.7,"y":19},{"x":53.7,"y":43},{"x":55.7,"y":19},{"x":57.7,"y":4},{"x":60.7,"y":0},{"x":65.3,"y":0}]},"mark":{"type":"line","color":"#1c1cd6","strokeWidth":2.1,"interpolate":"monotone"}},
{"data":{"values":[{"x":-25,"y":51.3,"t":"CONTROL541"}]},"mark":{"type":"text","fontSize":19.5,"fontWeight":"bold","angle":270},"encoding":{"text":{"field":"t"}}},
{"data":{"values":[{"x":32,"y":-22,"t":"1.3"}]},"mark":{"type":"text","fontSize":15},"encoding":{"text":{"field":"t"}}}
]},
{"encoding":{"x":{"field":"x","type":"quantitative","axis":null,"scale":{"domain":[0,60],"range":[803,863]}},"y":{"field":"y","type":"quantitative","axis":null,"scale":{"domain":[-3,113.7],"range":[1535.7,1419]}}},
"layer":[
{"data":{"values":[{"x":0,"x2":60,"y":-3,"y2":113.7}]},"mark":{"type":"rect","fill":null,"stroke":"#777","strokeWidth":1.5},"encoding":{"x2":{"field":"x2"},"y2":{"field":"y2"}}},
{"data":{"values":[{"x":0,"y":0},{"x":3.7,"y":0},{"x":6.7,"y":10},{"x":8.7,"y":47},{"x":10.7,"y":103.7},{"x":12.7,"y":47},{"x":14.7,"y":10},{"x":17.7,"y":0},{"x":20.7,"y":0},{"x":23.7,"y":11},{"x":25.7,"y":49},{"x":27.7,"y":108},{"x":29.7,"y":49},{"x":31.7,"y":11},{"x":34.7,"y":0},{"x":43,"y":0},{"x":46,"y":8},{"x":48,"y":35},{"x":50,"y":77.7},{"x":52,"y":35},{"x":54,"y":8},{"x":57,"y":0},{"x":60,"y":0}]},"mark":{"type":"line","color":"#1c1cd6","strokeWidth":2.1,"interpolate":"monotone"}},
{"data":{"values":[{"x":-20.3,"y":55.4,"t":"CASE1185"}]},"mark":{"type":"text","fontSize":19.5,"fontWeight":"bold","angle":270},"encoding":{"text":{"field":"t"}}},
{"data":{"values":[{"x":26.3,"y":-22.3,"t":"1.2"}]},"mark":{"type":"text","fontSize":15},"encoding":{"text":{"field":"t"}}}
]},

{"encoding":{"x":{"field":"x","type":"quantitative","axis":null,"scale":{"domain":[0,75.7],"range":[886.3,962]}},"y":{"field":"y","type":"quantitative","axis":null,"scale":{"domain":[-38.3,68.7],"range":[211.3,104.3]}}},
"layer":[
{"data":{"values":[{"x":0,"x2":75.7,"y":-38.3,"y2":68.7}]},"mark":{"type":"rect","fill":null,"stroke":"#333","strokeWidth":1.5},"encoding":{"x2":{"field":"x2"},"y2":{"field":"y2"}}},
{"data":{"values":[{"x":0,"x2":75.7,"y":52,"y2":52}]},"mark":{"type":"rule","color":"#aaa","strokeWidth":1.5},"encoding":{"x2":{"field":"x2"},"y2":{"field":"y2"}}},
{"data":{"values":[{"x":0,"y":0},{"x":3.4,"y":0},{"x":5,"y":4},{"x":6.4,"y":11},{"x":7.8,"y":4},{"x":10.5,"y":0},{"x":12,"y":2},{"x":13.5,"y":20},{"x":15,"y":49},{"x":16.5,"y":20},{"x":18,"y":2},{"x":20,"y":0},{"x":36,"y":0},{"x":40,"y":5},{"x":43.5,"y":0},{"x":45,"y":1},{"x":47,"y":7},{"x":48.7,"y":17},{"x":50.4,"y":7},{"x":52.5,"y":0},{"x":54,"y":2},{"x":55.9,"y":18},{"x":57.4,"y":42},{"x":58.9,"y":18},{"x":60.5,"y":2},{"x":63,"y":0},{"x":75.7,"y":0}]},"mark":{"type":"line","color":"#666","strokeWidth":1.3,"interpolate":"monotone"}},
{"data":{"values":[{"x":34.7,"y":84,"t":"D12S336"}]},"mark":{"type":"text","fontSize":19.5,"fontWeight":"bold"},"encoding":{"text":{"field":"t"}}},
{"data":{"values":[{"x":8.4,"y":60.3,"t":"112"},{"x":69,"y":60.3,"t":"126"},{"x":15.4,"y":-15,"t":"113.45"},{"x":15.4,"y":-27.7,"t":"2109"},{"x":57.7,"y":-15,"t":"123.09"},{"x":57.7,"y":-27.7,"t":"1813"}]},"mark":{"type":"text","fontSize":7.5,"color":"#444"},"encoding":{"text":{"field":"t"}}}
]},
{"encoding":{"x":{"field":"x","type":"quantitative","axis":null,"scale":{"domain":[0,75.7],"range":[886.3,962]}},"y":{"field":"y","type":"quantitative","axis":null,"scale":{"domain":[-38.7,69.3],"range":[367,259]}}},
"layer":[
{"data":{"values":[{"x":0,"x2":75.7,"y":-38.7,"y2":69.3}]},"mark":{"type":"rect","fill":null,"stroke":"#333","strokeWidth":1.5},"encoding":{"x2":{"field":"x2"},"y2":{"field":"y2"}}},
{"data":{"values":[{"x":0,"x2":75.7,"y":52.3,"y2":52.3},{"x":25.7,"x2":25.7,"y":23.3,"y2":40.3},{"x":65.7,"x2":65.7,"y":31.6,"y2":15.3}]},"mark":{"type":"rule","color":"#888","strokeWidth":1.3},"encoding":{"x2":{"field":"x2"},"y2":{"field":"y2"}}},
{"data":{"values":[{"x":0,"y":0},{"x":3.4,"y":0},{"x":5,"y":4},{"x":6.4,"y":12},{"x":7.8,"y":4},{"x":10.5,"y":0},{"x":12,"y":2},{"x":13.2,"y":20},{"x":14.7,"y":50},{"x":16.2,"y":20},{"x":18,"y":2},{"x":20,"y":0},{"x":36,"y":0},{"x":40,"y":4},{"x":43.5,"y":0},{"x":45,"y":1},{"x":47,"y":5},{"x":48.7,"y":12},{"x":50.4,"y":5},{"x":52.5,"y":0},{"x":54,"y":2},{"x":55.9,"y":12},{"x":57.4,"y":29},{"x":58.9,"y":12},{"x":60.5,"y":2},{"x":63,"y":0},{"x":75.7,"y":0}]},"mark":{"type":"line","color":"#666","strokeWidth":1.3,"interpolate":"monotone"}},
{"data":{"values":[{"x":25.7,"y":37,"s":"up"},{"x":65.7,"y":19,"s":"down"}]},"mark":{"type":"point","filled":true,"color":"black","opacity":1,"size":70},"encoding":{"shape":{"field":"s","type":"nominal","scale":{"domain":["up","down"],"range":["triangle-up","triangle-down"]},"legend":null}}},
{"data":{"values":[{"x":8.4,"y":60.6,"t":"112"},{"x":69,"y":60.6,"t":"126"},{"x":15.4,"y":-16.7,"t":"113.36"},{"x":15.4,"y":-28.7,"t":"4247"},{"x":57.7,"y":-16.7,"t":"123.04"},{"x":57.7,"y":-28.7,"t":"2450"}]},"mark":{"type":"text","fontSize":7.5,"color":"#444"},"encoding":{"text":{"field":"t"}}}
]},
{"encoding":{"x":{"field":"x","type":"quantitative","axis":null,"scale":{"domain":[0,75.7],"range":[994.3,1070]}},"y":{"field":"y","type":"quantitative","axis":null,"scale":{"domain":[-40.3,70.4],"range":[214,103.3]}}},
"layer":[
{"data":{"values":[{"x":0,"x2":75.7,"y":-40.3,"y2":70.4}]},"mark":{"type":"rect","fill":null,"stroke":"#333","strokeWidth":1.5},"encoding":{"x2":{"field":"x2"},"y2":{"field":"y2"}}},
{"data":{"values":[{"x":0,"x2":75.7,"y":54.4,"y2":54.4},{"x":14,"x2":14,"y":50,"y2":58},{"x":35,"x2":35,"y":50,"y2":58}]},"mark":{"type":"rule","color":"#888","strokeWidth":1.3},"encoding":{"x2":{"field":"x2"},"y2":{"field":"y2"}}},
{"data":{"values":[{"x":0,"y":0},{"x":3,"y":1},{"x":5,"y":22},{"x":7,"y":54},{"x":9,"y":22},{"x":11,"y":1},{"x":14,"y":0},{"x":44,"y":0},{"x":48.4,"y":3},{"x":52,"y":0},{"x":54,"y":1},{"x":56.5,"y":5},{"x":58,"y":12},{"x":59.5,"y":5},{"x":62,"y":1},{"x":64,"y":3},{"x":66.2,"y":14},{"x":67.7,"y":31},{"x":69.2,"y":14},{"x":71,"y":2},{"x":75.7,"y":0}]},"mark":{"type":"line","color":"#666","strokeWidth":1.3,"interpolate":"monotone"}},
{"data":{"values":[{"x":37.7,"y":85.7,"t":"D19S884"}]},"mark":{"type":"text","fontSize":19.5,"fontWeight":"bold"},"encoding":{"text":{"field":"t"}}},
{"data":{"values":[{"x":77.4,"y":139.7,"t":"Microsatellite Markers"}]},"mark":{"type":"text","fontSize":22.6,"fontWeight":"bold"},"encoding":{"text":{"field":"t"}}},
{"data":{"values":[{"x":-41,"x2":195.7,"y":131.4,"y2":131.4}]},"mark":{"type":"rule","color":"black","strokeWidth":1.5},"encoding":{"x2":{"field":"x2"},"y2":{"field":"y2"}}},
{"data":{"values":[{"x":14,"y":61.7,"t":"96"},{"x":56.4,"y":61.7,"t":"104"},{"x":7.4,"y":-18,"t":"94.59"},{"x":7.4,"y":-33,"t":"1910"},{"x":66,"y":-18,"t":"103.4"},{"x":66,"y":-33,"t":"1073"}]},"mark":{"type":"text","fontSize":6.5,"color":"#555"},"encoding":{"text":{"field":"t"}}}
]},
{"encoding":{"x":{"field":"x","type":"quantitative","axis":null,"scale":{"domain":[0,73],"range":[1120,1193]}},"y":{"field":"y","type":"quantitative","axis":null,"scale":{"domain":[-42,70.4],"range":[214.7,102.3]}}},
"layer":[
{"data":{"values":[{"x":0,"x2":73,"y":-42,"y2":70.4}]},"mark":{"type":"rect","fill":null,"stroke":"#555","strokeWidth":1.5},"encoding":{"x2":{"field":"x2"},"y2":{"field":"y2"}}},
{"data":{"values":[{"x":0,"x2":73,"y":53.7,"y2":53.7},{"x":0,"x2":73,"y":0,"y2":0}]},"mark":{"type":"rule","color":"#888","strokeWidth":1.3},"encoding":{"x2":{"field":"x2"},"y2":{"field":"y2"}}},
{"data":{"values":[{"x":0,"y":1},{"x":3,"y":3},{"x":7,"y":15},{"x":9.5,"y":30},{"x":12,"y":37},{"x":14.5,"y":30},{"x":17,"y":13},{"x":21,"y":2},{"x":25,"y":1},{"x":29,"y":3},{"x":33.7,"y":8.7},{"x":38,"y":4},{"x":43,"y":1},{"x":47,"y":4},{"x":51,"y":17},{"x":55.7,"y":27.7},{"x":60,"y":17},{"x":64,"y":4},{"x":68,"y":0.5},{"x":73,"y":0}]},"mark":{"type":"line","color":"#43a843","strokeWidth":1.4,"interpolate":"monotone"}},
{"data":{"values":[{"x":36,"y":84.7,"t":"D22S280"}]},"mark":{"type":"text","fontSize":19.5,"fontWeight":"bold"},"encoding":{"text":{"field":"t"}}},
{"data":{"values":[{"x":57.7,"y":62,"t":"217"}]},"mark":{"type":"text","fontSize":8,"color":"#444"},"encoding":{"text":{"field":"t"}}},
{"data":{"values":[{"x":13,"y":-15.3,"t":"212.64"},{"x":9,"y":-29,"t":"1359"},{"x":55.7,"y":-15.3,"t":"216.77"},{"x":52,"y":-29,"t":"1033"}]},"mark":{"type":"text","fontSize":8.5,"color":"#3fa63f"},"encoding":{"text":{"field":"t"}}}
]},
{"encoding":{"x":{"field":"x","type":"quantitative","axis":null,"scale":{"domain":[0,73.6],"range":[1005.7,1079.3]}},"y":{"field":"y","type":"quantitative","axis":null,"scale":{"domain":[-41.4,68.3],"range":[1103.7,994]}}},
"layer":[
{"data":{"values":[{"x":0,"x2":73.6,"y":-41.4,"y2":68.3}]},"mark":{"type":"rect","fill":null,"stroke":"#333","strokeWidth":1.5},"encoding":{"x2":{"field":"x2"},"y2":{"field":"y2"}}},
{"data":{"values":[{"x":0,"x2":73.6,"y":53.3,"y2":53.3},{"x":19,"x2":19,"y":47.3,"y2":29.3},{"x":46.6,"x2":46.6,"y":31.6,"y2":49.3}]},"mark":{"type":"rule","color":"#888","strokeWidth":1.3},"encoding":{"x2":{"field":"x2"},"y2":{"field":"y2"}}},
{"data":{"values":[{"x":0,"y":0},{"x":3,"y":1},{"x":5,"y":20},{"x":7,"y":49.7},{"x":9,"y":20},{"x":11,"y":1},{"x":14,"y":0},{"x":43,"y":0},{"x":45.6,"y":1},{"x":47.6,"y":5.7},{"x":50,"y":0.5},{"x":53,"y":1},{"x":55.2,"y":9},{"x":57,"y":22},{"x":58.8,"y":9},{"x":61,"y":1},{"x":62.5,"y":2},{"x":64.8,"y":22},{"x":66.6,"y":53},{"x":68.4,"y":22},{"x":70.5,"y":1},{"x":73.6,"y":0}]},"mark":{"type":"line","color":"#666","strokeWidth":1.3,"interpolate":"monotone"}},
{"data":{"values":[{"x":19,"y":33,"s":"down"},{"x":46.6,"y":45,"s":"up"}]},"mark":{"type":"point","filled":true,"color":"black","opacity":1,"size":70},"encoding":{"shape":{"field":"s","type":"nominal","scale":{"domain":["up","down"],"range":["triangle-up","triangle-down"]},"legend":null}}},
{"data":{"values":[{"x":36,"y":104,"t":"D19S884"}]},"mark":{"type":"text","fontSize":19.5,"fontWeight":"bold"},"encoding":{"text":{"field":"t"}}},
{"data":{"values":[{"x":14.3,"y":63,"t":"96"},{"x":55,"y":63,"t":"104"},{"x":7,"y":-14.4,"t":"94.07"},{"x":7,"y":-29.4,"t":"885"},{"x":65,"y":-14.4,"t":"103.2"},{"x":65,"y":-29.4,"t":"914"}]},"mark":{"type":"text","fontSize":6.5,"color":"#555"},"encoding":{"text":{"field":"t"}}}
]},
{"encoding":{"x":{"field":"x","type":"quantitative","axis":null,"scale":{"domain":[0,72.3],"range":[1139.7,1212]}},"y":{"field":"y","type":"quantitative","axis":null,"scale":{"domain":[-60.3,53.7],"range":[1533,1419]}}},
"layer":[
{"data":{"values":[{"x":0,"x2":72.3,"y":-60.3,"y2":53.7}]},"mark":{"type":"rect","fill":null,"stroke":"#555","strokeWidth":1.5},"encoding":{"x2":{"field":"x2"},"y2":{"field":"y2"}}},
{"data":{"values":[{"x":0,"x2":72.3,"y":40.4,"y2":40.4},{"x":0,"x2":72.3,"y":0,"y2":0},{"x":34,"x2":34,"y":14.7,"y2":32},{"x":63.3,"x2":63.3,"y":26.7,"y2":8.7}]},"mark":{"type":"rule","color":"#666","strokeWidth":1.2},"encoding":{"x2":{"field":"x2"},"y2":{"field":"y2"}}},
{"data":{"values":[{"x":50.3,"x2":50.3,"y":0,"y2":-32.3},{"x":37.6,"x2":64.3,"y":-33,"y2":-33}]},"mark":{"type":"rule","color":"#3fa63f","strokeWidth":1.5},"encoding":{"x2":{"field":"x2"},"y2":{"field":"y2"}}},
{"data":{"values":[{"x":0,"y":1},{"x":4,"y":2},{"x":8,"y":3},{"x":12,"y":12},{"x":16,"y":30},{"x":21,"y":39.3},{"x":25,"y":30},{"x":29,"y":12},{"x":33,"y":2},{"x":38,"y":0},{"x":42,"y":5},{"x":46,"y":14},{"x":50.3,"y":16.7},{"x":54,"y":12},{"x":58,"y":2},{"x":62,"y":0},{"x":72.3,"y":0}]},"mark":{"type":"line","color":"#43a843","strokeWidth":1.4,"interpolate":"monotone"}},
{"data":{"values":[{"x":34,"y":28,"s":"up"},{"x":63.3,"y":12.5,"s":"down"}]},"mark":{"type":"point","filled":true,"color":"black","opacity":1,"size":70},"encoding":{"shape":{"field":"s","type":"nominal","scale":{"domain":["up","down"],"range":["triangle-up","triangle-down"]},"legend":null}}},
{"data":{"values":[{"x":33,"y":86,"t":"D22S280"}]},"mark":{"type":"text","fontSize":19.5,"fontWeight":"bold"},"encoding":{"text":{"field":"t"}}},
{"data":{"values":[{"x":52.6,"y":47,"t":"217"}]},"mark":{"type":"text","fontSize":8,"color":"#444"},"encoding":{"text":{"field":"t"}}},
{"data":{"values":[{"x":20.3,"y":-12.3,"t":"214.66"},{"x":17,"y":-22.3,"t":"1323"},{"x":51,"y":-40.6,"t":"216.81"},{"x":45.3,"y":-51.3,"t":"576"}]},"mark":{"type":"text","fontSize":8.5,"color":"#3fa63f"},"encoding":{"text":{"field":"t"}}}
]}
]}
